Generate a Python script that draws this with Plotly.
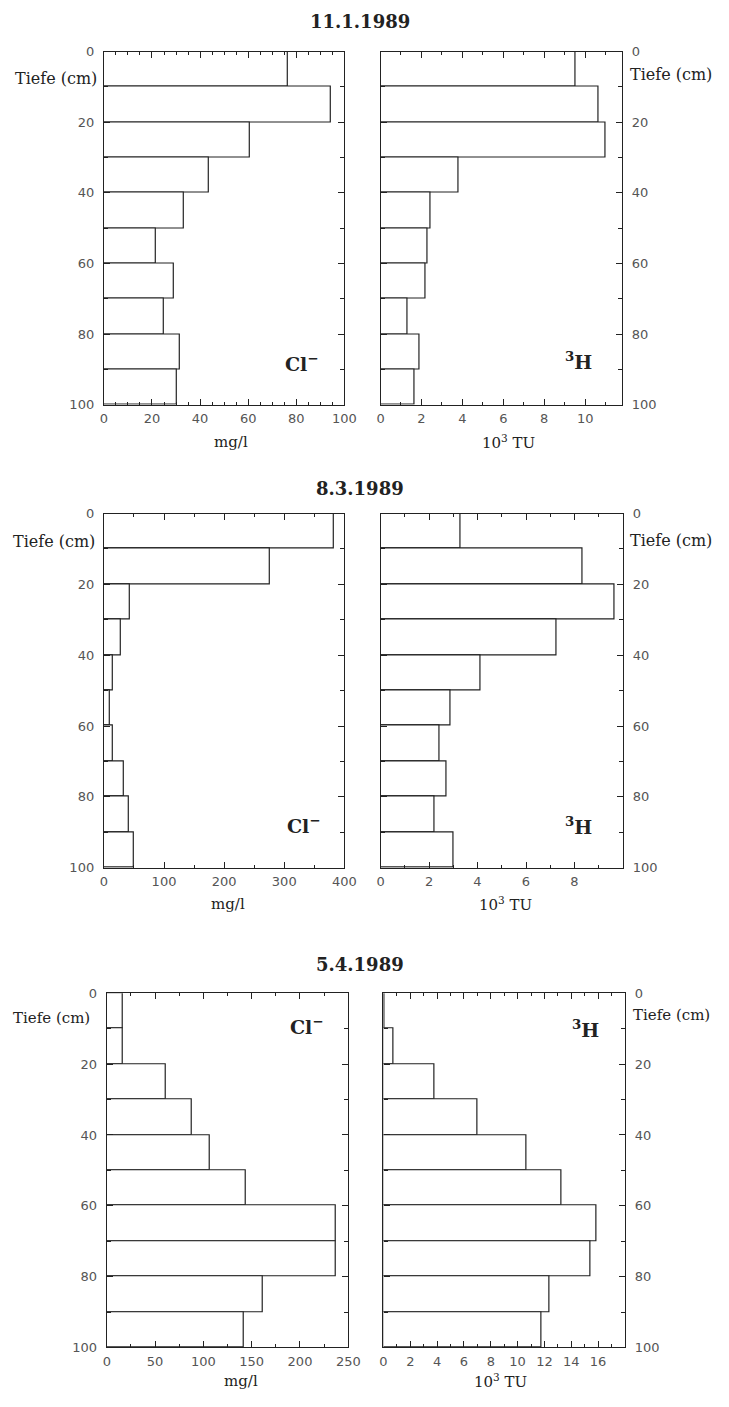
import plotly.graph_objects as go

W, H = 729, 1407
OFF = 8  # default page body margin
FW, FH = W - 2 * OFF, H - 2 * OFF

# ---------------- data ----------------
depth_centers = [5, 15, 25, 35, 45, 55, 65, 75, 85, 95]
dates = ["11.1.1989", "8.3.1989", "5.4.1989"]

cl_jan = [76.5, 94.6, 60.7, 43.6, 33.3, 21.7, 29.3, 24.8, 31.5, 30.2]
h3_jan = [9.55, 10.67, 11.0, 3.79, 2.43, 2.32, 2.21, 1.31, 1.89, 1.65]
cl_mar = [383, 276, 43, 28, 15, 10, 15, 33.5, 41.6, 50]
h3_mar = [3.3, 8.34, 9.65, 7.28, 4.11, 2.87, 2.44, 2.74, 2.24, 3.02]
cl_apr = [16.8, 16.8, 60.6, 87.5, 107, 144, 237, 237.5, 161, 142]
h3_apr = [0.05, 0.78, 3.78, 7.04, 10.67, 13.26, 15.9, 15.4, 12.4, 11.8]

cl_ranges = [[0, 100], [0, 400], [0, 250]]
cl_dticks = [20, 100, 50]
cl_minor = [5, 50, 25]
h3_ranges = [[0, 11.8], [0, 10], [0, 18]]
h3_tickvals = [[0, 2, 4, 6, 8, 10], [0, 2, 4, 6, 8], [0, 2, 4, 6, 8, 10, 12, 14, 16]]
y_ticks = [0, 20, 40, 60, 80, 100]

# ---------------- layout geometry (page pixels) ----------------
rows_px = [(45, 402), (512, 870), (997, 1355)]
left_px = [(102, 348), (102, 348), (105, 352)]
right_px = [(385, 632), (385, 633), (388, 635)]
title_y_px = [15, 487, 968]
unit_pos = [((232, 440), (516, 440)), ((229, 907), (513, 907)), ((242, 1389), (508, 1389))]
species_pos = [((305, 360), (587, 358)), ((307, 827), (587, 828)), ((310, 1030), (595, 1033))]
tiefe_left_x = [97, 95, 90]
tiefe_right_x = [638, 638, 641]
tiefe_size = [16, 16, 15]
tiefe_y = [(7.5, 6.5), (7.8, 7.5), (7.0, 6.0)]


def fx(p):
    return (p - OFF) / FW


def fy(p):
    return 1 - (p - OFF) / FH


serif = "DejaVu Serif"
ink = "#222222"
tickfont = dict(family="DejaVu Sans", size=13, color="#555555")

fig = go.Figure()
cl_data = [cl_jan, cl_mar, cl_apr]
h3_data = [h3_jan, h3_mar, h3_apr]

annotations = []
ax = 1
for r in range(3):
    for k, (side, vals) in enumerate((("left", cl_data[r]), ("right", h3_data[r]))):
        xs = "x" if ax == 1 else f"x{ax}"
        ys = "y" if ax == 1 else f"y{ax}"
        fig.add_trace(go.Bar(
            x=vals, y=depth_centers, orientation="h", width=10,
            marker=dict(color="white", line=dict(color=ink, width=1.2)),
            xaxis=xs, yaxis=ys, showlegend=False, hoverinfo="x+y"))
        px = left_px[r] if side == "left" else right_px[r]
        top, bot = rows_px[r]
        xkey = "xaxis" if ax == 1 else f"xaxis{ax}"
        ykey = "yaxis" if ax == 1 else f"yaxis{ax}"
        if side == "left":
            xa = dict(range=cl_ranges[r], dtick=cl_dticks[r], tick0=0,
                      minor=dict(dtick=cl_minor[r], ticks="inside", ticklen=3,
                                 tickcolor=ink, tickwidth=1))
        else:
            xa = dict(range=h3_ranges[r], tickvals=h3_tickvals[r],
                      minor=dict(dtick=1, ticks="inside", ticklen=3,
                                 tickcolor=ink, tickwidth=1))
        xa.update(domain=[fx(px[0]), fx(px[1])], anchor=ys, showgrid=False,
                  zeroline=False, showline=True, linecolor=ink,
                  linewidth=1.2, mirror="ticks", ticks="inside", ticklen=6,
                  tickcolor=ink, tickwidth=1, tickfont=tickfont,
                  fixedrange=True, layer="above traces", ticklabelstandoff=2)
        ya = dict(domain=[fy(bot), fy(top)], anchor=xs, range=[100, 0],
                  tickvals=y_ticks, showgrid=False, zeroline=False,
                  showline=True, linecolor=ink, linewidth=1.2,
                  mirror="ticks", ticks="inside", ticklen=6,
                  tickcolor=ink, tickwidth=1, tickfont=tickfont,
                  side=side, fixedrange=True, layer="above traces",
                  ticklabelstandoff=6,
                  minor=dict(dtick=10, ticks="inside", ticklen=4,
                             tickcolor=ink, tickwidth=1))
        fig.update_layout({xkey: xa, ykey: ya})

        # "Tiefe (cm)" label
        if side == "left":
            annotations.append(dict(text="Tiefe (cm)", xref="paper",
                                    x=fx(tiefe_left_x[r]), xanchor="right",
                                    yref=ys, y=tiefe_y[r][0], showarrow=False,
                                    font=dict(family=serif, size=tiefe_size[r], color=ink)))
        else:
            annotations.append(dict(text="Tiefe (cm)", xref="paper",
                                    x=fx(tiefe_right_x[r]), xanchor="left",
                                    yref=ys, y=tiefe_y[r][1], showarrow=False,
                                    font=dict(family=serif, size=tiefe_size[r], color=ink)))
        # unit label
        unit = "mg/l" if side == "left" else "10<sup>3</sup> TU"
        ux, uy = unit_pos[r][k]
        annotations.append(dict(text=unit, xref="paper", x=fx(ux), xanchor="center",
                                yref="paper", y=fy(uy), yanchor="middle",
                                showarrow=False,
                                font=dict(family=serif, size=15, color=ink)))
        # species label
        lab = "<b>Cl<sup>−</sup></b>" if side == "left" else "<b><sup>3</sup>H</b>"
        sx, sy = species_pos[r][k]
        annotations.append(dict(text=lab, xref="paper", x=fx(sx), xanchor="center",
                                yref="paper", y=fy(sy), yanchor="middle",
                                showarrow=False,
                                font=dict(family=serif, size=19, color=ink)))
        ax += 1

    annotations.append(dict(text=f"<b>{dates[r]}</b>", xref="paper", x=fx(364),
                            xanchor="center", yref="paper", y=fy(title_y_px[r]),
                            yanchor="middle", showarrow=False,
                            font=dict(family=serif, size=18, color=ink)))

fig.update_layout(width=FW, height=FH, margin=dict(l=0, r=0, t=0, b=0),
                  paper_bgcolor="white", plot_bgcolor="white",
                  annotations=annotations, bargap=0, showlegend=False)

fig.write_html("out.html")
